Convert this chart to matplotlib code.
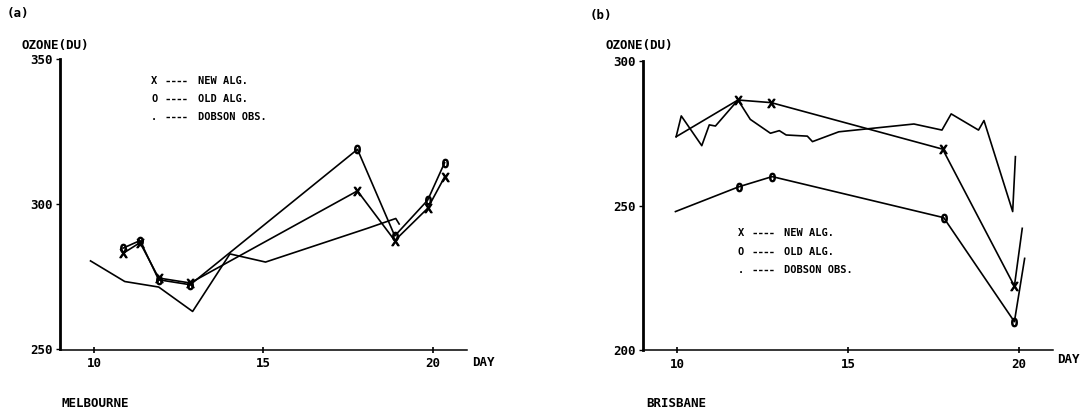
import matplotlib
matplotlib.use('Agg')
import matplotlib.pyplot as plt

# ---------------- data ----------------
# Panel (a) Melbourne
mel_new_day = [10.86, 11.36, 11.91, 12.84, 17.77, 18.87, 19.84, 20.34]
mel_new_du = [283.1, 286.8, 274.6, 272.9, 304.6, 287.5, 298.6, 309.4]
mel_old_day = [10.86, 11.36, 11.91, 12.84, 17.77, 18.87, 19.84, 20.34]
mel_old_du = [284.9, 287.5, 274.0, 272.3, 318.9, 289.1, 301.4, 314.3]
mel_dob_day = [9.90, 10.91, 11.91, 12.91, 14.01, 15.06, 18.06, 18.90, 19.00]
mel_dob_du = [280.5, 273.4, 271.5, 263.1, 282.9, 280.1, 291.7, 295.1, 293.2]

# Panel (b) Brisbane
bri_new_day = [9.97, 11.78, 12.75, 17.77, 19.87, 20.10]
bri_new_du = [273.8, 286.5, 285.6, 269.5, 222.1, 242.1]
bri_old_day = [9.95, 11.81, 12.78, 17.80, 19.87, 20.17]
bri_old_du = [247.9, 256.5, 260.0, 245.8, 209.8, 231.7]
bri_dob_day = [9.97, 10.12, 10.72, 10.94, 11.12, 11.78, 12.14, 12.73, 12.99,
               13.19, 13.81, 13.96, 14.73, 16.93, 17.75, 18.02, 18.82, 18.98,
               19.82, 19.90]
bri_dob_du = [273.8, 281.0, 270.7, 277.9, 277.5, 286.5, 279.8, 275.0, 275.9,
              274.4, 274.0, 272.1, 275.5, 278.2, 276.1, 281.7, 276.1, 279.4,
              247.9, 266.9]

x_ticks = [10, 15, 20]
mel_y_ticks = [250, 300, 350]
bri_y_ticks = [200, 250, 300]
legend_symbols = ['X', '0', '.']
legend_labels = ['NEW ALG.', 'OLD ALG.', 'DOBSON OBS.']

W, H = 1091, 415
FONT = dict(family='DejaVu Sans Mono', weight='bold', size=9)
LFONT = dict(family='DejaVu Sans Mono', weight='bold', size=7.5)

fig = plt.figure(figsize=(W / 100, H / 100), dpi=100)
fig.patch.set_facecolor('white')


def px(x, y):
    return x / W, 1 - y / H


def style_axes(ax, ylim, yticks):
    ax.set_xlim(9, 21)
    ax.set_ylim(*ylim)
    for s in ['top', 'right']:
        ax.spines[s].set_visible(False)
    ax.spines['left'].set_linewidth(2.0)
    ax.spines['bottom'].set_linewidth(1.1)
    ax.set_xticks(x_ticks)
    ax.set_xticklabels([str(t) for t in x_ticks], **FONT)
    ax.set_yticks(yticks)
    ax.set_yticklabels([str(t) for t in yticks], **FONT)
    ax.tick_params(axis='x', direction='inout', length=5, width=1.2, pad=3)
    ax.tick_params(axis='y', direction='out', length=3, width=1.0, pad=2)
    ax.patch.set_alpha(0)


def draw_legend(ax, x_sym, x_dash0, x_dash1, x_text, ys):
    for sym, lab, y in zip(legend_symbols, legend_labels, ys):
        ax.text(x_sym, y, sym if sym != '0' else 'O', ha='center', va='center', **LFONT)
        ax.plot([x_dash0, x_dash1], [y, y], color='black', lw=1.0,
                linestyle=(0, (2.5, 1.5)))
        ax.text(x_text, y, lab, ha='left', va='center', **LFONT)


line_kw = dict(color='black', lw=1.2)
mk_x = dict(marker=r'$\mathrm{X}$', ms=6, mec='black', mfc='black')
mk_o = dict(marker=r'$\mathrm{0}$', ms=6, mec='black', mfc='black')

# ---------------- panel (a) ----------------
axa = fig.add_axes([60 / W, 1 - 349.5 / H, 407 / W, 290.5 / H])
style_axes(axa, (250, 350), mel_y_ticks)
axa.plot(mel_dob_day, mel_dob_du, **line_kw)
axa.plot(mel_new_day, mel_new_du, **line_kw, **mk_x)
axa.plot(mel_old_day, mel_old_du, **line_kw, **mk_o)
draw_legend(axa, 11.78, 12.12, 12.75, 13.07, [342.4, 336.2, 329.9])

# ---------------- panel (b) ----------------
axb = fig.add_axes([643 / W, 1 - 350 / H, 410 / W, 289 / H])
style_axes(axb, (200, 300), bri_y_ticks)
axb.plot(bri_dob_day, bri_dob_du, **line_kw)
axb.plot(bri_new_day, bri_new_du, **line_kw, markevery=[1, 2, 3, 4], **mk_x)
axb.plot(bri_old_day, bri_old_du, **line_kw, markevery=[1, 2, 3, 4], **mk_o)
draw_legend(axb, 11.86, 12.22, 12.84, 13.14, [240.4, 234.0, 227.7])

# ---------------- texts ----------------
fig.text(*px(7, 13), '(a)', ha='left', va='center', **FONT)
fig.text(*px(590, 16), '(b)', ha='left', va='center', **FONT)
fig.text(*px(22, 45), 'OZONE(DU)', ha='left', va='center', **FONT)
fig.text(*px(605, 46), 'OZONE(DU)', ha='left', va='center', **FONT)
fig.text(*px(472, 362), 'DAY', ha='left', va='center', **FONT)
fig.text(*px(1057, 359), 'DAY', ha='left', va='center', **FONT)
fig.text(*px(62, 403), 'MELBOURNE', ha='left', va='center', **FONT)
fig.text(*px(646, 403), 'BRISBANE', ha='left', va='center', **FONT)

fig.savefig('out.png', dpi=100, facecolor='white')
